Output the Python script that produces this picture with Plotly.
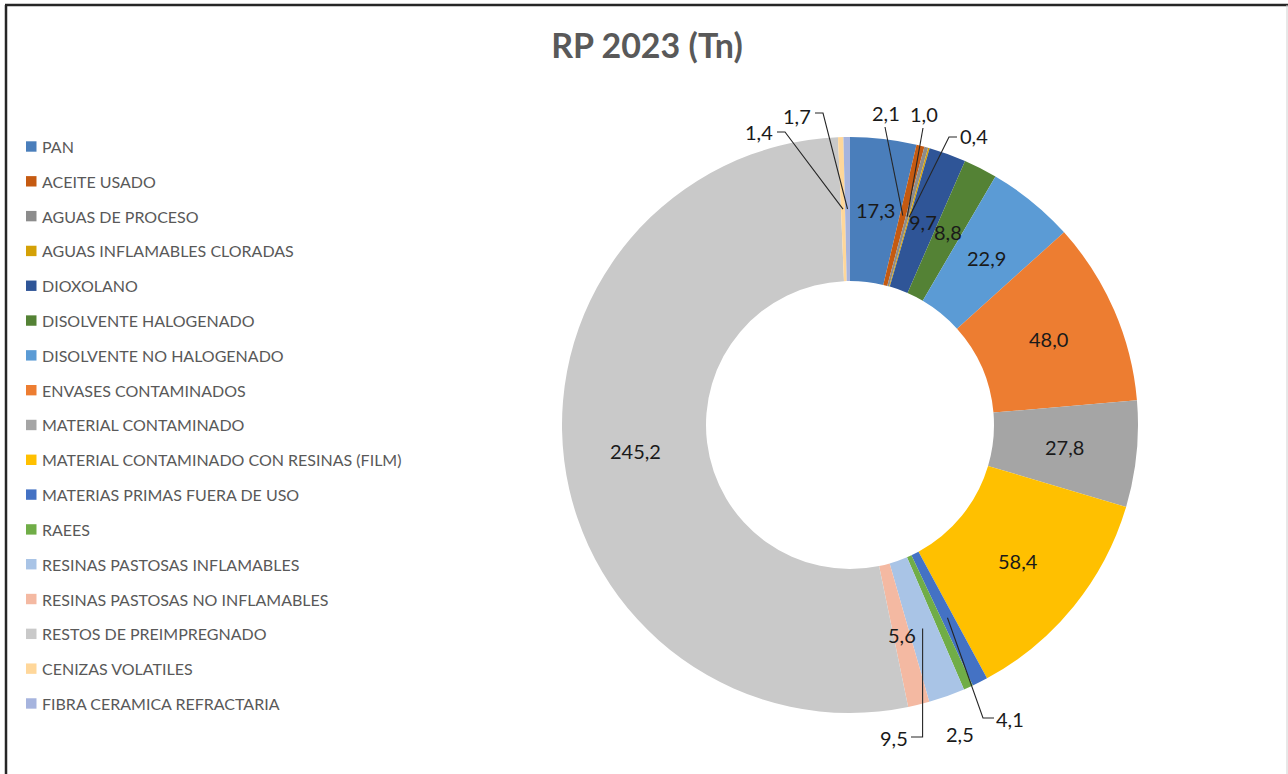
import math
import plotly.graph_objects as go

# ---------------- data ----------------
categories = [
    "PAN",
    "ACEITE USADO",
    "AGUAS DE PROCESO",
    "AGUAS INFLAMABLES CLORADAS",
    "DIOXOLANO",
    "DISOLVENTE HALOGENADO",
    "DISOLVENTE NO HALOGENADO",
    "ENVASES CONTAMINADOS",
    "MATERIAL CONTAMINADO",
    "MATERIAL CONTAMINADO CON RESINAS (FILM)",
    "MATERIAS PRIMAS FUERA DE USO",
    "RAEES",
    "RESINAS PASTOSAS INFLAMABLES",
    "RESINAS PASTOSAS NO INFLAMABLES",
    "RESTOS DE PREIMPREGNADO",
    "CENIZAS VOLATILES",
    "FIBRA CERAMICA REFRACTARIA",
]
values = [17.3, 2.1, 1.0, 0.4, 9.7, 8.8, 22.9, 48.0, 27.8, 58.4,
          4.1, 2.5, 9.5, 5.6, 245.2, 1.4, 1.7]
title_text = "RP 2023 (Tn)"

# ---------------- style ----------------
colors = [
    "#4A7EBB", "#C55A11", "#8C8C8C", "#D4A106", "#2F5597", "#548235",
    "#5B9BD5", "#ED7D31", "#A5A5A5", "#FFC000", "#4472C4", "#70AD47",
    "#A9C4E6", "#F4B9A2", "#C9C9C9", "#FFD79A", "#A6B4DE",
]
FONT = "Lato"
W, H = 1288, 774
CX, CY, R = 850, 425, 288
HOLE = 0.5
RMID = R * (1 + HOLE) / 2

# outside labels: text centre and elbow points of the leader (pixels)
outside = {
    "ACEITE USADO": ((886, 113), [(885, 127)]),
    "AGUAS DE PROCESO": ((924, 114), [(923, 128)]),
    "AGUAS INFLAMABLES CLORADAS": ((974, 136), [(957, 137), (949, 137)]),
    "MATERIAS PRIMAS FUERA DE USO": ((1010, 719), [(994, 718), (983, 718)]),
    "RAEES": ((960, 734), []),
    "RESINAS PASTOSAS INFLAMABLES": ((894, 738), [(911, 737), (922.6, 737)]),
    "CENIZAS VOLATILES": ((759, 132), [(777, 132), (785, 132)]),
    "FIBRA CERAMICA REFRACTARIA": ((797, 116), [(815, 113), (823, 113)]),
}


def fx(x):
    return x / W


def fy(y):
    return 1 - y / H


def fmt(v):
    return f"{v:.1f}".replace(".", ",")


total = sum(values)
mids = []
acc = 0.0
for v in values:
    mids.append((acc + v / 2) / total * 2 * math.pi)
    acc += v

fig = go.Figure(
    go.Pie(
        labels=categories,
        values=values,
        hole=HOLE,
        sort=False,
        direction="clockwise",
        rotation=0,
        marker=dict(colors=colors, line=dict(width=0)),
        textinfo="none",
        hovertemplate="%{label}: %{value}<extra></extra>",
        domain=dict(x=[fx(CX - R), fx(CX + R)], y=[fy(CY + R), fy(CY - R)]),
        showlegend=False,
    )
)

annotations = []
shapes = []

# data labels
for cat, v, th in zip(categories, values, mids):
    ax = CX + RMID * math.sin(th)
    ay = CY - RMID * math.cos(th)
    if cat in outside:
        (tx, ty), elbows = outside[cat]
        if elbows:
            pts = elbows + [(ax, ay)]
            path = "M " + " L ".join(f"{fx(x):.5f},{fy(y):.5f}" for x, y in pts)
            shapes.append(dict(type="path", xref="paper", yref="paper", path=path,
                               line=dict(color="#262626", width=1.1)))
    else:
        tx, ty = ax, ay
    annotations.append(dict(
        x=fx(tx), y=fy(ty), xref="paper", yref="paper", text=fmt(v),
        showarrow=False, xanchor="center", yanchor="middle",
        font=dict(family=FONT, size=20, color="#1A1A1A"),
    ))

# legend (custom, one entry per category)
LEG_Y0, LEG_STEP = 146.5, 34.81
for i, (cat, col) in enumerate(zip(categories, colors)):
    yc = LEG_Y0 + i * LEG_STEP
    shapes.append(dict(type="rect", xref="paper", yref="paper",
                       x0=fx(26), x1=fx(36.5), y0=fy(yc + 5.2), y1=fy(yc - 5.2),
                       fillcolor=col, line=dict(width=0)))
    annotations.append(dict(
        x=fx(40), y=fy(yc), xref="paper", yref="paper", text=cat,
        showarrow=False, xanchor="left", yanchor="middle",
        font=dict(family=FONT, size=16, color="#595959"),
    ))

# outer frame (top and left dark, right faint, bottom outside the view)
shapes.append(dict(type="line", xref="paper", yref="paper",
                   x0=fx(5), x1=1, y0=fy(5), y1=fy(5),
                   line=dict(color="#262626", width=2.5)))
shapes.append(dict(type="line", xref="paper", yref="paper",
                   x0=fx(6), x1=fx(6), y0=fy(5), y1=0,
                   line=dict(color="#262626", width=2.5)))
shapes.append(dict(type="line", xref="paper", yref="paper",
                   x0=fx(1287), x1=fx(1287), y0=fy(5), y1=0,
                   line=dict(color="#D0D0D0", width=1)))

fig.update_layout(
    width=W, height=H,
    margin=dict(l=0, r=0, t=0, b=0),
    paper_bgcolor="white", plot_bgcolor="white",
    title=dict(text=f"<b>{title_text}</b>", x=fx(647), xanchor="center",
               y=fy(46), yanchor="middle", yref="container",
               font=dict(family=FONT, size=34, color="#595959")),
    annotations=annotations,
    shapes=shapes,
)

fig.write_html(
    "out.html",
    config={"displayModeBar": False},
    post_script="document.body.style.margin='0';document.body.style.overflow='hidden';",
)
